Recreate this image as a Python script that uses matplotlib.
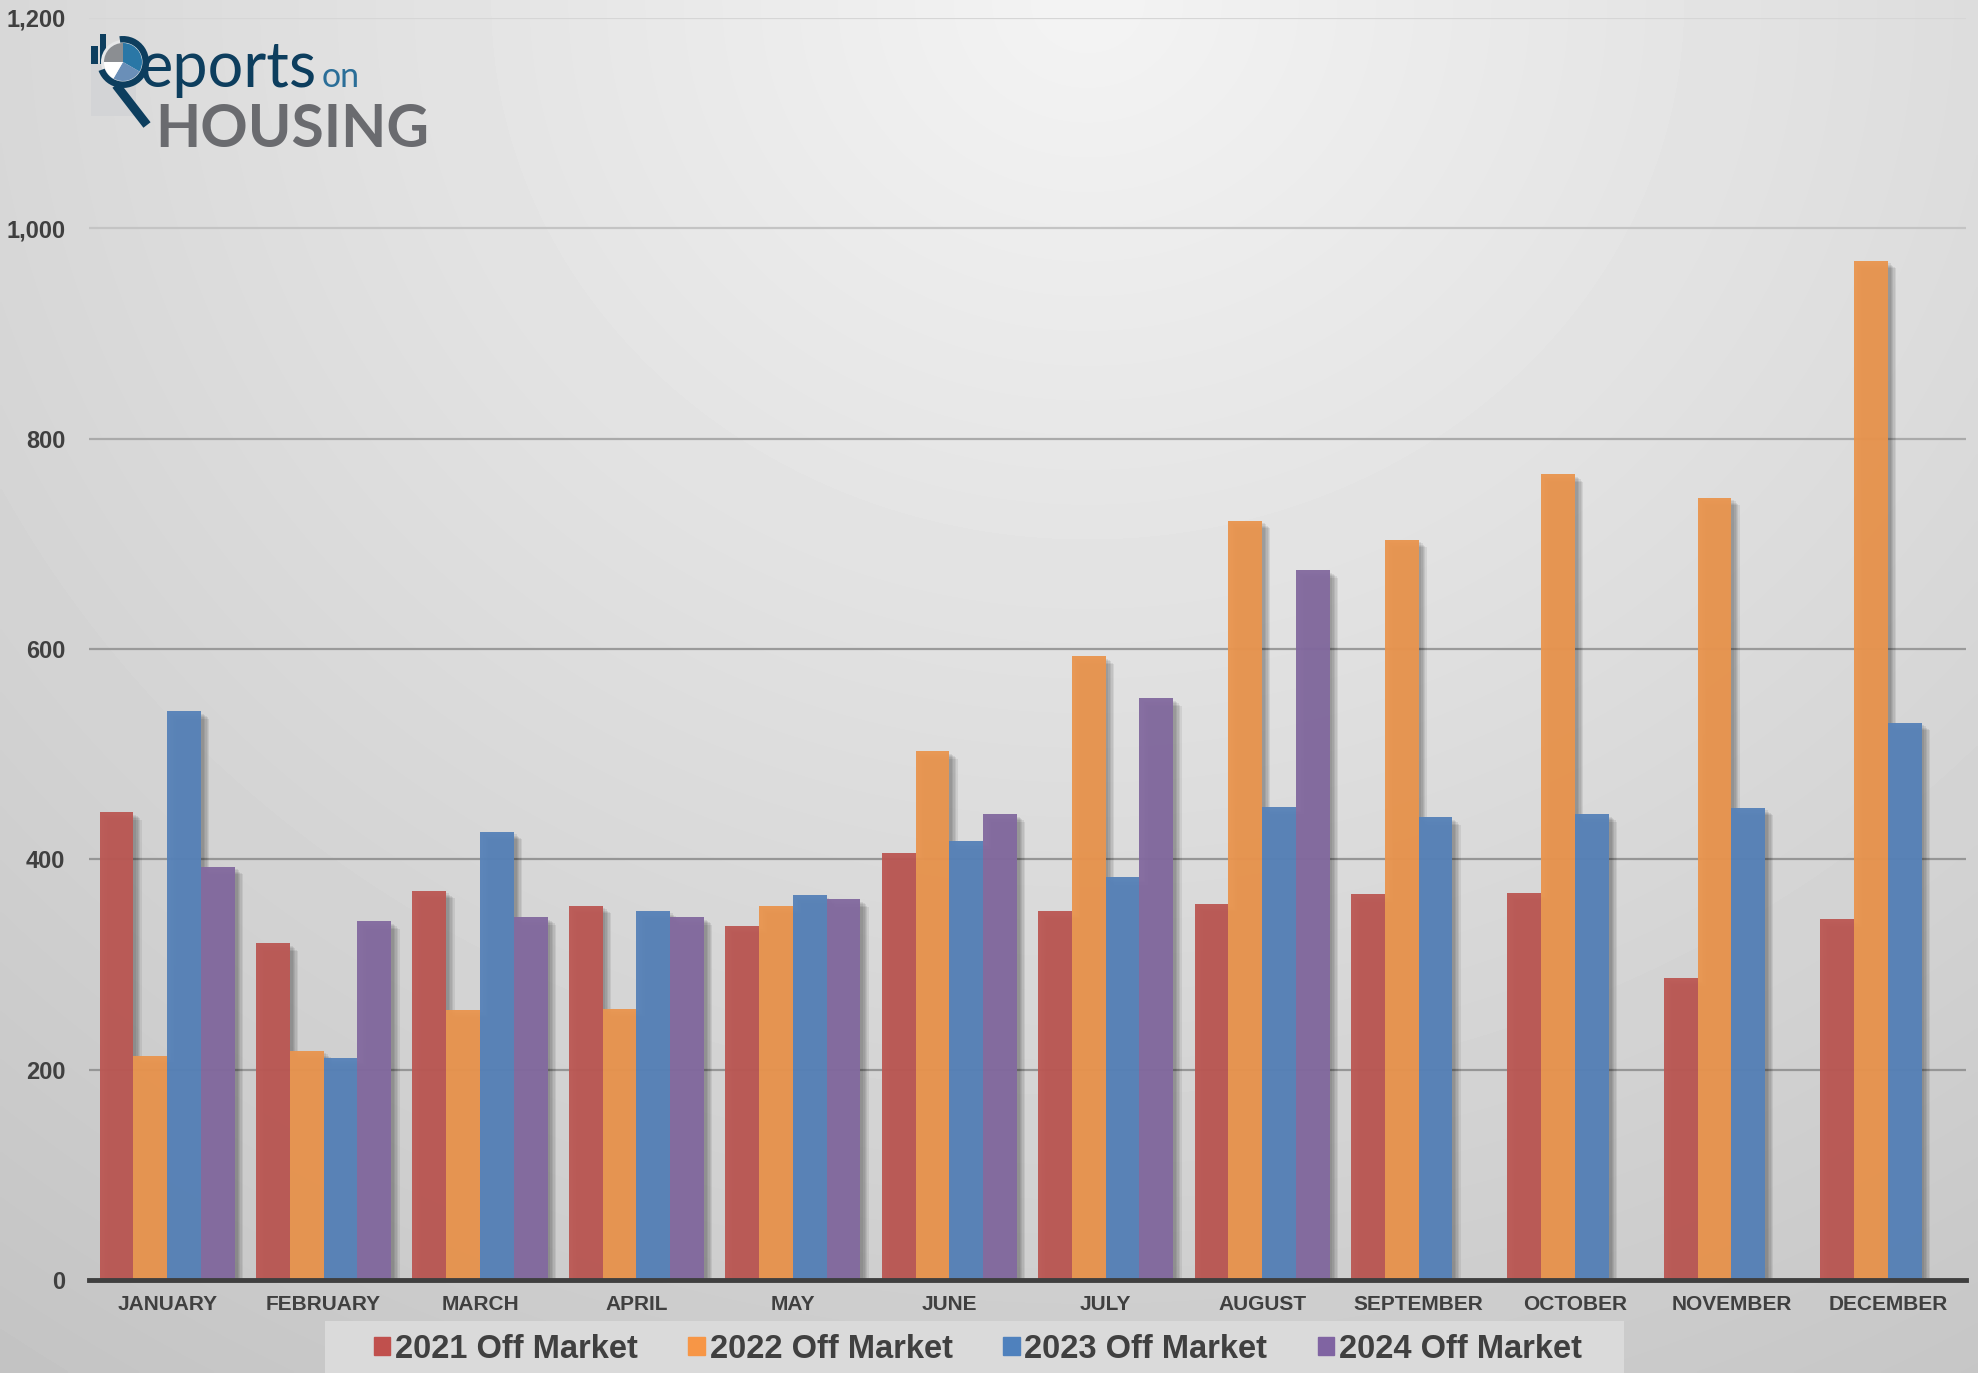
import numpy as np
import matplotlib
matplotlib.use("Agg")
import matplotlib.pyplot as plt
import matplotlib.patheffects as pe
from matplotlib import font_manager
from matplotlib.patches import Rectangle, Circle, Wedge
from matplotlib.ticker import FuncFormatter

# --- data ------------------------------------------------------------------
months = ["JANUARY", "FEBRUARY", "MARCH", "APRIL", "MAY", "JUNE", "JULY",
          "AUGUST", "SEPTEMBER", "OCTOBER", "NOVEMBER", "DECEMBER"]
off_2021 = [445, 320, 370, 356, 337, 406, 351, 358, 367, 368, 287, 343]
off_2022 = [213, 218, 257, 258, 356, 503, 593, 722, 704, 766, 744, 969]
off_2023 = [541, 211, 426, 351, 366, 417, 383, 450, 440, 443, 449, 530]
off_2024 = [393, 341, 345, 345, 362, 443, 553, 675,
            np.nan, np.nan, np.nan, np.nan]
labels = ["2021 Off Market", "2022 Off Market", "2023 Off Market", "2024 Off Market"]
colors = ["#bb5854", "#e9954f", "#5782b8", "#836a9f"]
legend_colors = ["#c0504d", "#f79646", "#4f81bd", "#8064a2"]

W, H = 1978, 1373
TXT = "#404040"
names = {f.name for f in font_manager.fontManager.ttflist}
narrow = "Liberation Sans Narrow" in names

fig = plt.figure(figsize=(W / 100, H / 100), dpi=100)

# soft grey background gradient
bg = fig.add_axes([0, 0, 1, 1], zorder=0)
yy, xx = np.mgrid[1:0:400j, 0:1:600j]
shade = 0.955 - 0.154 * np.hypot(1.3 * (xx - 0.55), yy - 1.0)
bg.imshow(shade, cmap="gray", vmin=0, vmax=1, extent=(0, 1, 0, 1),
          aspect="auto", interpolation="bilinear")
bg.add_patch(Rectangle((325 / W, 0), (1624 - 325) / W, 52 / H,
                       color="#dadada", lw=0))
bg.set_xlim(0, 1)
bg.set_ylim(0, 1)
bg.axis("off")

# --- main chart ------------------------------------------------------------
ax = fig.add_axes([89 / W, 93 / H, (1966 - 89) / W, (1280 - 18) / H], zorder=1)
ax.patch.set_alpha(0)
x = np.arange(len(months))
width = 0.216
# layered offsets fake a soft drop shadow to the right
shadow = [pe.SimplePatchShadow(offset=(o, -o * 0.9), shadow_rgbFace="k", alpha=0.07)
          for o in (6, 5, 4, 3, 2)] + [pe.Normal()]
for i, (vals, col) in enumerate(zip([off_2021, off_2022, off_2023, off_2024], colors)):
    ax.bar(x + (i - 1.5) * width, vals, width, color=col, alpha=0.96,
           zorder=3, path_effects=shadow, linewidth=0)

ax.set_xlim(-0.5, len(months) - 0.5)
ax.set_ylim(0, 1200)
ax.set_yticks(range(0, 1201, 200))
ax.yaxis.set_major_formatter(FuncFormatter(lambda v, p: f"{int(v):,}"))
ax.set_xticks(x)
ax.set_xticklabels(months)
ax.set_axisbelow(True)
ax.yaxis.grid(True, color="#999999", linewidth=1.6)
grid_cols = ["#999999", "#969696", "#969696", "#9a9a9a", "#aaaaaa", "#c4c4c4", "#d6d6d6"]
for gl, c in zip(ax.get_ygridlines(), grid_cols):
    gl.set_color(c)
for s in ["left", "right", "top"]:
    ax.spines[s].set_visible(False)
ax.spines["bottom"].set_color("#3f3f3f")
ax.spines["bottom"].set_linewidth(3.5)
ax.spines["bottom"].set_zorder(4)
ax.tick_params(axis="y", length=0, pad=17, labelsize=17, labelcolor=TXT)
ax.tick_params(axis="x", length=0, pad=11, labelsize=15, labelcolor=TXT)
for t in ax.get_xticklabels() + ax.get_yticklabels():
    t.set_fontfamily("Liberation Sans")
    t.set_fontweight("bold")

# --- legend ----------------------------------------------------------------
handles = [Rectangle((0, 0), 1, 1, color=c) for c in legend_colors]
fig.legend(handles, labels, loc="center", bbox_to_anchor=(978 / W, 1 - 1349 / H),
           ncol=4, frameon=False, handlelength=0.5, handleheight=0.5,
           handletextpad=0.15, columnspacing=1.55, borderpad=0,
           labelcolor=TXT,
           prop=dict(family="Liberation Sans Narrow" if narrow else "Liberation Sans",
                     weight="bold", size=28 if narrow else 23.5))

# --- logo ------------------------------------------------------------------
lg = fig.add_axes([0, 0, 1, 1], zorder=3)
lg.set_xlim(0, W)
lg.set_ylim(H, 0)
lg.axis("off")
lg.patch.set_alpha(0)
navy = "#0d3e5e"
cx, cy = 123, 62
lg.add_patch(Rectangle((91, 63), 45, 53, color="#d3d4d6", lw=0))
lg.add_patch(Rectangle((91, 46), 7, 18, color=navy, lw=0))
lg.add_patch(Rectangle((100, 34), 6, 30, color=navy, lw=0))
lg.add_patch(Circle((cx, cy), 22, color="#e6e7e8", lw=0))
lg.add_patch(Wedge((cx, cy), 19, 270, 30, color="#2a77a6", lw=0))
lg.add_patch(Wedge((cx, cy), 19, 30, 120, color="#6a8fb8", lw=0))
lg.add_patch(Wedge((cx, cy), 19, 120, 180, color="white", lw=0))
lg.add_patch(Wedge((cx, cy), 19, 180, 270, color="#8b8e92", lw=0))
lg.add_patch(Wedge((cx, cy), 26, 262, 160, width=6.5, color=navy, lw=0))
lg.plot([116, 147], [85, 125], color=navy, lw=6.5, solid_capstyle="butt")

renderer = fig.canvas.get_renderer()


def fit_text(x0, x1, y, s, **kw):
    t = lg.text(x0, y, s, fontsize=40, ha="left", va="baseline", **kw)
    bb = t.get_window_extent(renderer)
    t.set_fontsize(40 * (x1 - x0) / bb.width)
    return t


fit_text(139, 316, 87, "eports", color=navy, family="Lato")
fit_text(322, 360, 87, "on", color="#2a6e98", family="Lato")
fit_text(155, 429, 147, "HOUSING", color="#6a6b6f", family="Lato", weight="bold")

fig.savefig("out.png", dpi=100)
